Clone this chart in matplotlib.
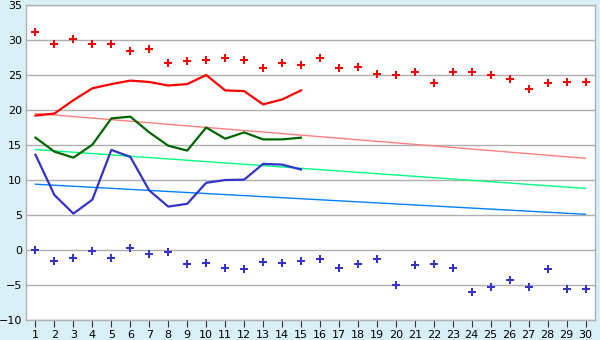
import matplotlib
matplotlib.use("Agg")
import matplotlib.pyplot as plt
import numpy as np

# Days of the month
days = list(range(1, 31))
days_current = list(range(1, 16))

# Record highs / lows per day
record_max = [31.2, 29.5, 30.1, 29.4, 29.5, 28.5, 28.7, 26.7, 27.0, 27.2,
              27.5, 27.1, 26.0, 26.7, 26.4, 27.5, 26.0, 26.1, 25.1, 24.95,
              25.4, 23.8, 25.5, 25.4, 24.95, 24.4, 22.95, 23.8, 23.95, 23.95]
record_min = [0.0, -1.6, -1.2, -0.2, -1.2, 0.25, -0.6, -0.35, -2.05, -1.9,
              -2.5, -2.75, -1.75, -1.9, -1.5, -1.35, -2.6, -2.05, -1.35, -5.05,
              -2.2, -2.05, -2.6, -6.05, -5.35, -4.35, -5.35, -2.75, -5.6, -5.6]

# Current month: max, mean, min
cur_max = [19.2, 19.5, 21.4, 23.1, 23.7, 24.2, 24.0, 23.5, 23.7, 25.0,
           22.8, 22.7, 20.8, 21.5, 22.8]
cur_mean = [16.05, 14.05, 13.2, 15.05, 18.8, 19.05, 16.8, 14.9, 14.2, 17.5,
            15.9, 16.8, 15.8, 15.8, 16.05]
cur_min = [13.6, 7.85, 5.2, 7.2, 14.3, 13.3, 8.5, 6.2, 6.6, 9.6,
           10.0, 10.05, 12.3, 12.2, 11.5]

# Long-term normals (start and end of month)
norm_max = [19.5, 13.1]
norm_mean = [14.35, 8.8]
norm_min = [9.4, 5.1]

fig = plt.figure(figsize=(6, 3.4), dpi=100, facecolor="#daf0f7")
ax = fig.add_axes([26 / 600, 20 / 340, 569 / 600, 315 / 340])
ax.set_facecolor("white")

ends = [days[0], days[-1]]
ax.plot(ends, norm_max, color="#ff8080", linewidth=1)
ax.plot(ends, norm_mean, color="#00ff80", linewidth=1)
ax.plot(ends, norm_min, color="#0080ff", linewidth=1)

ax.plot(days_current, cur_max, color="#ff0000", linewidth=1.6)
ax.plot(days_current, cur_mean, color="#006600", linewidth=1.6)
ax.plot(days_current, cur_min, color="#3333cc", linewidth=1.6)

# record points drawn as small filled crosses
ax.plot(days, record_max, linestyle="none", marker="P", markersize=6,
        color="#ff0000", markeredgewidth=0)
ax.plot(days, record_min, linestyle="none", marker="P", markersize=6,
        color="#3333cc", markeredgewidth=0)

ax.set_xlim(0.5, 30.5)
ax.set_ylim(-10, 35)
ax.set_xticks(days)
ax.set_yticks(np.arange(-10, 36, 5))
ax.grid(axis="y", color="#b0b0b0", linewidth=1)
ax.set_axisbelow(True)

for s in ax.spines.values():
    s.set_color("#b0b0b0")
    s.set_linewidth(1)

ax.tick_params(axis="x", length=5, color="#333333", labelsize=8, pad=2)
ax.tick_params(axis="y", length=0, labelsize=8, pad=3)

fig.savefig("out.png", dpi=100, facecolor=fig.get_facecolor())
